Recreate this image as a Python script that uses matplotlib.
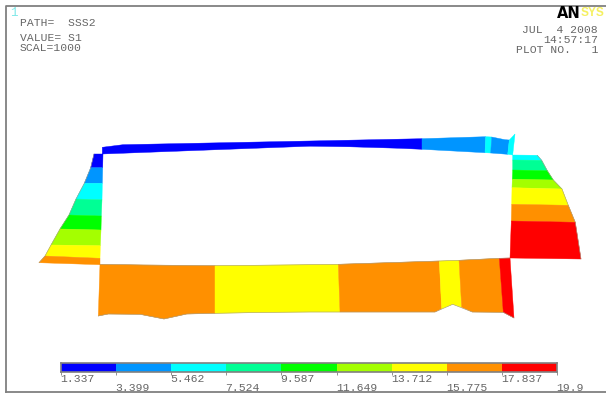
import matplotlib
matplotlib.use('AGG')
import matplotlib.pyplot as plt

# contour levels of S1
levels = [1.337, 3.399, 5.462, 7.524, 9.587, 11.649, 13.712, 15.775, 17.837, 19.9]
colors = ['#0000ff', '#0095ff', '#00ffff', '#00ff95', '#00ff00',
          '#a4ff00', '#ffff00', '#ff9000', '#ff0000']

# path plot outline (x, y in picture units)
left_outer = [(94, 154), (90.7, 167.7), (84.3, 183.3), (76, 199), (69, 215),
              (60, 229), (51, 245), (45, 256), (39, 262.7)]
left_inner = [(103, 154), (102.7, 167.7), (102.3, 183.3), (102, 199.7), (101.3, 216),
              (101, 230), (100.3, 245.7), (100, 258.3), (100, 264.7)]
left_bands = [0, 1, 2, 3, 4, 5, 6, 7]

right_inner = [(512.7, 155), (512.7, 160), (512.7, 170), (512.3, 179.3), (512, 187.7),
               (511.7, 204.3), (511.3, 221), (510, 258)]
right_outer = [(537.3, 155.3), (541.7, 160.3), (547.3, 170.7), (553.3, 180), (562, 189),
               (568.3, 205.3), (575.3, 222.3), (581, 259)]
right_bands = [2, 3, 4, 5, 6, 7, 8]

top_polys = [
    ([(102.3, 147.3), (123, 144.7), (310, 141), (422, 138.7),
      (422, 149.3), (400, 148.3), (350, 146.8), (310, 146.2), (102.3, 154)], 0),
    ([(422, 138.7), (485.7, 136.7), (485, 152.7), (422, 149.3)], 1),
    ([(485.7, 136.7), (491.7, 137), (490.7, 153), (485, 152.7)], 2),
    ([(491.7, 137), (505, 139.7), (509.3, 140), (507.7, 154.3), (490.7, 153)], 1),
    ([(509.3, 140), (515, 134), (512.7, 155), (507.7, 154.3)], 2),
]

bottom_polys = [
    ([(100, 264.3), (143.3, 265), (215, 265.7), (215, 313.3), (186.7, 314), (164, 319),
      (140, 314.3), (108.3, 314), (98.3, 316)], 7),
    ([(215, 265.7), (310, 264.7), (338.3, 264.3), (340, 312), (310, 312),
      (271.7, 312.3), (215, 313.3)], 6),
    ([(338.3, 264.3), (439.3, 261), (441.7, 308.7), (435, 312), (340, 312)], 7),
    ([(439.3, 261), (459, 260.3), (461.7, 307.3), (452.7, 304.3), (441.7, 308.7)], 6),
    ([(459, 260.3), (499.3, 258.3), (503.3, 312.3), (472.3, 312), (461.7, 307.3)], 7),
    ([(499.3, 258.3), (510, 258), (514, 318), (503.3, 312.3)], 8),
]

left_text = [(20, 23, 'PATH=  SSS2'), (20, 38, 'VALUE= S1'), (20, 48, 'SCAL=1000')]
right_text = [(598, 30, 'JUL  4 2008'), (598, 40, '14:57:17'), (598, 50, 'PLOT NO.   1')]

TEXT_COLOR = '#666666'
OUTLINE = '#a09880'
MONO = 'Liberation Mono'

fig = plt.figure(figsize=(6.06, 3.94), dpi=100, facecolor='white')
ax = fig.add_axes([0, 0, 1, 1])
ax.set_xlim(0, 606)
ax.set_ylim(394, 0)
ax.axis('off')


def fill_poly(pts, idx):
    ax.fill([p[0] for p in pts], [p[1] for p in pts], color=colors[idx],
            lw=0.3, zorder=2)


def outline(pts):
    ax.plot([p[0] for p in pts], [p[1] for p in pts], color=OUTLINE, lw=0.4, zorder=3)


for i, idx in enumerate(left_bands):
    fill_poly([left_outer[i], left_inner[i], left_inner[i + 1], left_outer[i + 1]], idx)
for i, idx in enumerate(right_bands):
    fill_poly([right_inner[i], right_outer[i], right_outer[i + 1], right_inner[i + 1]], idx)
for pts, idx in top_polys + bottom_polys:
    fill_poly(pts, idx)

outline(left_outer)
outline(right_outer)
outline([(100, 264.3), (143.3, 265), (215, 265.7), (310, 264.7), (338.3, 264.3),
         (439.3, 261), (459, 260.3), (499.3, 258.3), (510, 258)])
outline([(98.3, 316), (108.3, 314), (140, 314.3), (164, 319), (186.7, 314), (215, 313.3),
         (271.7, 312.3), (310, 312), (435, 312), (452.7, 304.3), (472.3, 312),
         (503.3, 312.3), (514, 318)])

# window frame
ax.plot([606, 6, 6], [6, 6, 392], color='#808080', lw=1.3, zorder=1)
ax.plot([6, 606], [392, 392], color='#808080', lw=1.3, zorder=1)

ax.text(10, 13, '1', color='#7fe8e8', family=MONO, fontsize=9, va='center')
for x, y, s in left_text:
    ax.text(x, y, s, color=TEXT_COLOR, family=MONO, fontsize=8.2, va='center')
for x, y, s in right_text:
    ax.text(x, y, s, color=TEXT_COLOR, family=MONO, fontsize=8.2, va='center', ha='right')

ax.text(557, 13, 'AN', color='black', family='DejaVu Sans', weight='bold',
        fontsize=10.5, va='center')
ax.text(581, 13, 'SYS', color='#f5f060', family='Liberation Sans', weight='bold',
        fontsize=8.6, va='center')

# colour key
cax = fig.add_axes([61 / 606, 1 - 372 / 394, 496 / 606, 9 / 394])
cax.barh(0, [levels[i + 1] - levels[i] for i in range(9)], left=levels[:-1],
         height=1, color=colors, lw=0)
cax.set_xlim(levels[0], levels[-1])
cax.set_ylim(-0.5, 0.5)
cax.set_yticks([])
cax.set_xticks(levels)
cax.set_xticklabels([])
cax.tick_params(axis='x', length=2, width=0.6, color='#808080')
for s in cax.spines.values():
    s.set_color('#808080')
    s.set_linewidth(1.2)

for i, lev in enumerate(levels):
    # labels sit on two rows, left aligned at the tick
    y = -7 if i % 2 == 0 else -16
    cax.annotate(f'{lev:g}', xy=(lev, 0), xycoords=('data', 'axes fraction'),
                 xytext=(-0.5, y * 0.72), textcoords='offset points',
                 ha='left', va='center', color=TEXT_COLOR, family=MONO, fontsize=8.2)

fig.savefig('out.png', dpi=100)
